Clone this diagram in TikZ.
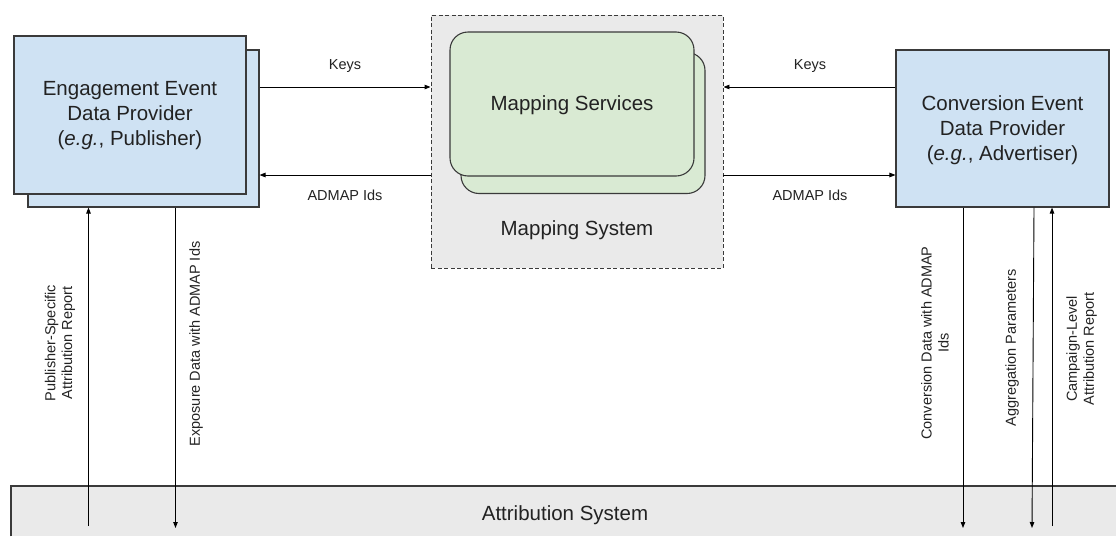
\documentclass[tikz,border=0pt]{standalone}
\usepackage{fontspec}
\setmainfont{Liberation Sans}
\usetikzlibrary{arrows.meta}
\definecolor{bluefill}{HTML}{CFE2F3}
\definecolor{greenfill}{HTML}{D9EAD3}
\definecolor{grayfill}{HTML}{EAEAEA}
\definecolor{edgecol}{HTML}{3A3A3A}
\definecolor{txt}{HTML}{222222}
\begin{document}
\begin{tikzpicture}[x=1pt,y=-1pt,
  bigtext/.style={font=\fontsize{20.5}{25}\selectfont, text=txt, align=center},
  smalltext/.style={font=\fontsize{14.5}{17}\selectfont, text=txt, align=center},
  bluebox/.style={draw=edgecol, line width=1.1pt, fill=bluefill, inner sep=0pt},
  greenbox/.style={draw=edgecol, line width=1.1pt, fill=greenfill, inner sep=0pt, rounded corners=18pt},
  sysbox/.style={draw=edgecol, line width=0.9pt, dash pattern=on 4pt off 2.5pt, fill=grayfill, inner sep=0pt},
  conn/.style={draw=black, line width=0.9pt, -{Triangle[length=6pt,width=4.5pt]}},
  vlabel/.style={smalltext, rotate=90}
]
\useasboundingbox (0,0) rectangle (1116,536);

% Attribution system
\node[fill=grayfill, inner sep=0pt, minimum width=1105pt, minimum height=50pt, anchor=north west] (attr) at (11,486) {};
\draw[draw=edgecol, line width=1.1pt] (attr.south west) -- (attr.north west) -- (attr.north east);
\node[bigtext] (attrlabel) at (565,515) {Attribution System};

% Engagement provider
\node[bluebox, minimum width=231pt, minimum height=157pt] (pubback) at (143.5,128.5) {};
\node[bluebox, minimum width=232pt, minimum height=158pt] (pub) at (130,115) {};
\node[bigtext] (publabel) at (130,116) {Engagement Event\\Data Provider\\(\textit{e.g.}, Publisher)};

% Conversion provider
\node[bluebox, minimum width=213pt, minimum height=157pt] (adv) at (1002.5,128.5) {};
\node[bigtext] (advlabel) at (1002.5,130) {Conversion Event\\Data Provider\\(\textit{e.g.}, Advertiser)};

% Mapping system
\node[sysbox, minimum width=292pt, minimum height=253pt] (msys) at (577,141.5) {};
\node[greenbox, minimum width=244pt, minimum height=141pt] (mservback) at (583,123) {};
\node[greenbox, minimum width=244pt, minimum height=144pt] (mserv) at (572,104) {};
\node[bigtext] (mservlabel) at (572,105) {Mapping Services};
\node[bigtext] (msyslabel) at (577,230) {Mapping System};

% Horizontal connectors
\coordinate (ky) at (0,87);
\coordinate (iy) at (0,175);
\draw[conn] (pubback.east |- ky) -- (msys.west |- ky);
\draw[conn] (msys.west |- iy) -- (pubback.east |- iy);
\draw[conn] (adv.west |- ky) -- (msys.east |- ky);
\draw[conn] (msys.east |- iy) -- (adv.west |- iy);
\node[smalltext] (k1) at (345,66) {Keys};
\node[smalltext] (i1) at (345,195) {ADMAP Ids};
\node[smalltext] (k2) at (810,66) {Keys};
\node[smalltext] (i2) at (810,195) {ADMAP Ids};

% Vertical connectors
\coordinate (e1) at (88.5,526);
\coordinate (e2) at (175.5,528);
\coordinate (e3) at (963,528);
\coordinate (e4) at (1032,528);
\coordinate (e5) at (1052,526);
\draw[conn] (e1) -- (pubback.south -| e1);
\draw[conn] (pubback.south -| e2) -- (e2);
\draw[conn] (adv.south -| e3) -- (e3);
\draw[conn] ([xshift=2pt]adv.south -| e4) -- (e4);
\draw[conn] (e5) -- (adv.south -| e5);

\node[vlabel] (l1) at (60,343) {Publisher-Specific\\Attribution Report};
\node[vlabel] (l2) at (196,344) {Exposure Data with ADMAP Ids};
\node[vlabel] (l3) at (935,343) {Conversion Data with ADMAP\\Ids};
\node[vlabel] (l4) at (1012,348) {Aggregation Parameters};
\node[vlabel] (l5) at (1081.5,349) {Campaign-Level\\Attribution Report};
\end{tikzpicture}
\end{document}
